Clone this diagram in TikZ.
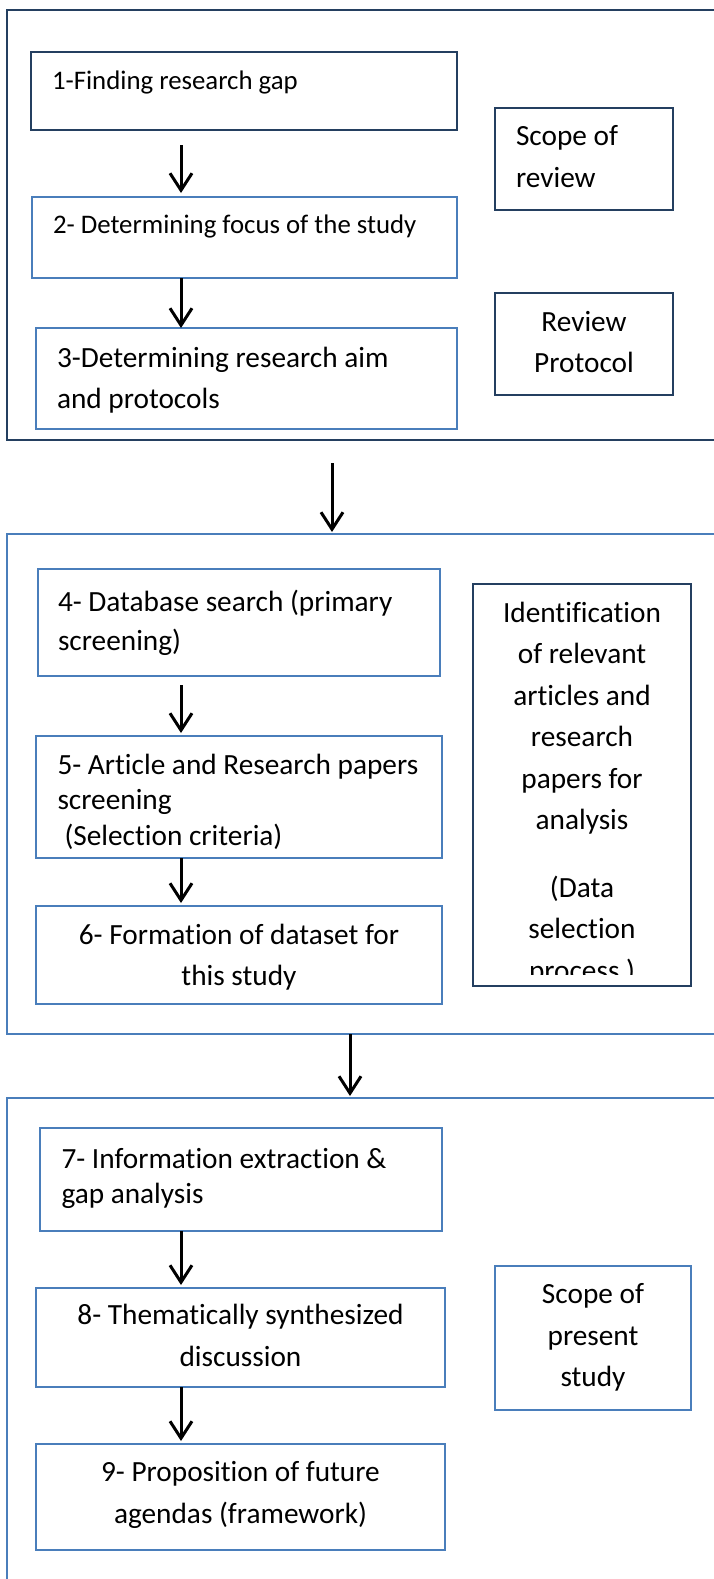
\documentclass[tikz,border=0pt]{standalone}
\usepackage{fontspec}
\setmainfont{Carlito}[Ligatures=NoCommon]
\usetikzlibrary{arrows.meta}

\definecolor{darkframe}{HTML}{243F60}
\definecolor{lightframe}{HTML}{4A7EBB}

\begin{document}
\begin{tikzpicture}[x=1pt, y=-1pt,
    groupframe/.style={draw, line width=2.4pt, anchor=north west, inner sep=0pt, outer sep=0pt},
    stepbox/.style={draw=lightframe, line width=2.4pt, anchor=north west, inner ysep=0pt, outer sep=0pt, font=\fontsize{29.3pt}{41.5pt}\selectfont},
    leading/.style={font=\fontsize{29.3pt}{#1}\selectfont},
    smalltext/.style={font=\fontsize{26.8pt}{38pt}\selectfont},
    flow/.style={-{Straight Barb[length=17pt, width=22pt]}, line width=3pt, black}]

    % Page size
    \useasboundingbox (0,0) rectangle (714,1579);
    \clip (0,0) rectangle (714,1579);

    % Etapa 1: alcance de la revision
    \node (phase1) [groupframe, draw=darkframe, minimum width=720pt, minimum height=430pt] at (7,10) {};
    \node (gap) [stepbox, smalltext, draw=darkframe, align=flush left, text width=384pt, inner xsep=21pt, text height=37pt, text depth=41pt] at (31,52)
    {1-Finding research gap};
    \node (focus) [stepbox, smalltext, align=flush left, text width=383pt, inner xsep=21pt, text height=36pt, text depth=45pt] at (32,197)
    {2- Determining focus of the study};
    \node (aim) [stepbox, align=flush left, text width=379pt, inner xsep=21pt, text height=39pt, text depth=62pt] at (36,328)
    {3-Determining research aim\\and protocols};
    \node (reviewscope) [stepbox, draw=darkframe, align=flush left, text width=136pt, inner xsep=21pt, text height=37.5pt, text depth=64.5pt] at (495,108)
    {Scope of\\review};
    \node (protocol) [stepbox, draw=darkframe, align=flush center, text width=158pt, inner xsep=10pt, text height=38pt, text depth=64pt] at (495,293)
    {Review\\Protocol};

    % Etapa 2: seleccion de datos
    \node (phase2) [groupframe, draw=lightframe, minimum width=720pt, minimum height=500pt] at (7,534) {};
    \node (search) [stepbox, leading=38.5pt, align=flush left, text width=362pt, inner xsep=20pt, text height=42.5pt, text depth=64.5pt] at (38,569)
    {4- Database search (primary\\screening)};
    \node (screen) [stepbox, leading=35.5pt, align=flush left, text width=363pt, inner xsep=21.5pt, text height=38pt, text depth=84pt] at (36,736)
    {5- Article and Research papers\\screening\\\hspace*{7pt}(Selection criteria)};
    \node (dataset) [stepbox, align=flush center, text width=386pt, inner xsep=10pt, text height=38pt, text depth=60pt] at (36,906)
    {6- Formation of dataset for\\this study};
    \begin{scope}
        % el texto queda cortado por el borde inferior
        \clip (0,0) rectangle (714,974) (0,974) rectangle (475,1579) (689,974) rectangle (714,1579);
        \node (ident) [stepbox, draw=darkframe, align=flush center, text width=202pt, inner xsep=8pt, text height=38pt, text depth=364pt] at (473,584)
        {Identification\\of relevant\\articles and\\research\\papers for\\analysis\\[26pt](Data\\selection\\process )};
    \end{scope}
    \draw[darkframe, line width=2.4pt] (ident.south west) -- (ident.south east);

    % Etapa 3: alcance del estudio
    \node (phase3) [groupframe, draw=lightframe, minimum width=720pt, minimum height=520pt] at (7,1098) {};
    \node (extract) [stepbox, leading=35pt, align=flush left, text width=359pt, inner xsep=21.5pt, text height=40pt, text depth=63pt] at (40,1128)
    {7- Information extraction \&\\gap analysis};
    \node (synth) [stepbox, align=flush center, text width=389pt, inner xsep=10pt, text height=36.7pt, text depth=62.3pt] at (36,1288)
    {8- Thematically synthesized\\discussion};
    \node (agenda) [stepbox, align=flush center, text width=389pt, inner xsep=10pt, text height=37.8pt, text depth=68.2pt] at (36,1444)
    {9- Proposition of future\\agendas (framework)};
    \node (studyscope) [stepbox, align=flush center, text width=176pt, inner xsep=10pt, text height=37.9pt, text depth=106.1pt] at (495,1266)
    {Scope of\\present\\study};

    % Flechas
    \coordinate (stepcol) at (181,0);
    \coordinate (linkA) at (332,0);
    \coordinate (linkB) at (350,0);
    \draw[flow, shorten <=15pt, shorten >=4pt] (gap.south -| stepcol) -- (focus.north -| stepcol);
    \draw[flow] (focus.south -| stepcol) -- (aim.north -| stepcol);
    \draw[flow, shorten <=23pt, shorten >=2pt] (phase1.south -| linkA) -- (phase2.north -| linkA);
    \draw[flow, shorten <=9pt, shorten >=3pt] (search.south -| stepcol) -- (screen.north -| stepcol);
    \draw[flow, shorten >=3pt] (screen.south -| stepcol) -- (dataset.north -| stepcol);
    \draw[flow, shorten >=2pt] (phase2.south -| linkB) -- (phase3.north -| linkB);
    \draw[flow, shorten >=3pt] (extract.south -| stepcol) -- (synth.north -| stepcol);
    \draw[flow, shorten >=3pt] (synth.south -| stepcol) -- (agenda.north -| stepcol);
\end{tikzpicture}
\end{document}
